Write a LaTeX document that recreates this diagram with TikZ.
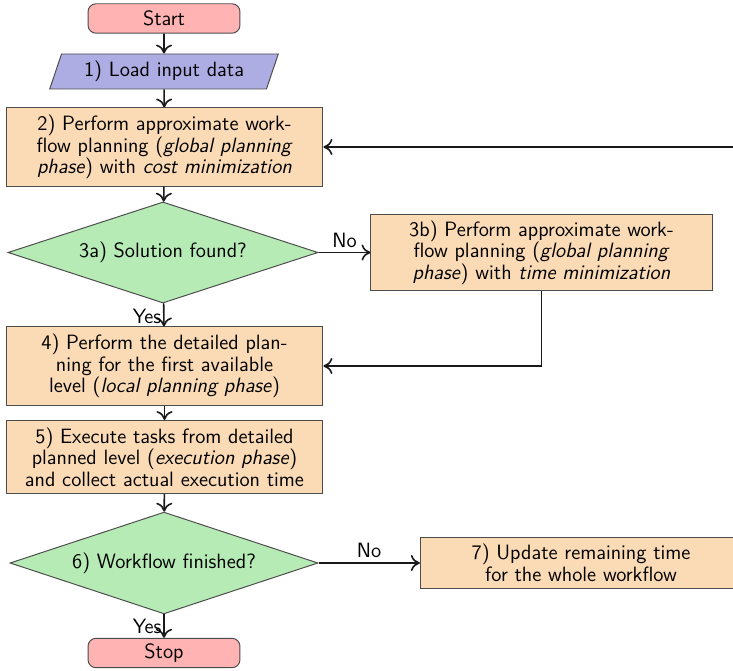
\documentclass[tikz,border=0pt]{standalone}
\usetikzlibrary{shapes.geometric,arrows.meta}
\definecolor{termred}{HTML}{FFB3B3}
\definecolor{iobl}{HTML}{ADADE3}
\definecolor{procor}{HTML}{FBDBB6}
\definecolor{decgr}{HTML}{B6EBB6}
\tikzset{
  base/.style={draw=black!70, line width=0.55pt, font=\sffamily\fontsize{11.6}{12}\selectfont, align=center, inner sep=2pt},
  term/.style={base, rounded corners=4.5pt, fill=termred, minimum width=85.1pt, minimum height=16.5pt},
  io/.style={base, trapezium, trapezium left angle=67, trapezium right angle=113, trapezium stretches body, fill=iobl, minimum width=128pt, minimum height=19.6pt},
  proc/.style={base, rectangle, fill=procor, minimum width=177.5pt, minimum height=43.7pt},
  dec/.style={base, diamond, shape aspect=3.07, fill=decgr, minimum width=173.6pt, minimum height=56.6pt, inner sep=0pt},
  arr/.style={draw=black!90, line width=0.9pt, -{To[length=5pt,width=9pt]}},
  lbl/.style={font=\sffamily\fontsize{11.6}{12}\selectfont, inner sep=1pt}
}
\begin{document}
\begin{tikzpicture}[x=0.56pt,y=-0.56pt]
\useasboundingbox (0,0) rectangle (733,671);
\clip (0,0) rectangle (733,671);
\node[term] (start) at (164,18.5) {Start};
\node[io] (load) at (164,71.5) {1) Load input data};
\node[proc] (p2) at (164.5,147) {2) Perform approximate work-\\flow planning (\textit{global planning}\\\textit{phase}) with \textit{cost minimization}};
\node[dec] (d3a) at (163,252.5) {3a) Solution found?};
\node[proc, minimum width=191pt, minimum height=43.1pt] (p3b) at (541.5,252.5) {3b) Perform approximate work-\\flow planning (\textit{global planning}\\\textit{phase}) with \textit{time minimization}};
\node[proc] (p4) at (164.5,366) {4) Perform the detailed plan-\\ning for the first available\\level (\textit{local planning phase})};
\node[proc, minimum height=40.9pt] (p5) at (164.5,457) {5) Execute tasks from detailed\\planned level (\textit{execution phase})\\and collect actual execution time};
\node[dec, minimum width=172.5pt, minimum height=57pt] (d6) at (164,563) {6) Workflow finished?};
\node[proc, minimum width=180pt, minimum height=29.1pt] (p7) at (581,563) {7) Update remaining time\\for the whole workflow};
\node[term] (stop) at (164,653) {Stop};
\coordinate (loopR) at (770,563);
\coordinate (loopT) at (770,147);
\draw[arr] (start) -- (load);
\draw[arr] (load) -- (p2);
\draw[arr] (p2) -- (d3a);
\draw[arr] (d3a) -- node[lbl, above, yshift=1.5pt, pos=0.5] {No} (p3b);
\draw[arr] (d3a) -- node[lbl, left, pos=0.55] {Yes} (p4);
\draw[arr] (p3b.south) -- (p3b.south |- p4.east) -- (p4.east);
\draw[arr] (p4) -- (p5);
\draw[arr] (p5) -- (d6);
\draw[arr] (d6) -- node[lbl, above, yshift=1.5pt, pos=0.5] {No} (p7);
\draw[arr] (d6) -- node[lbl, left, pos=0.5] {Yes} (stop);
\draw[arr] (p7.east) -- (loopR) -- (loopT) -- (p2.east);
\end{tikzpicture}
\end{document}
